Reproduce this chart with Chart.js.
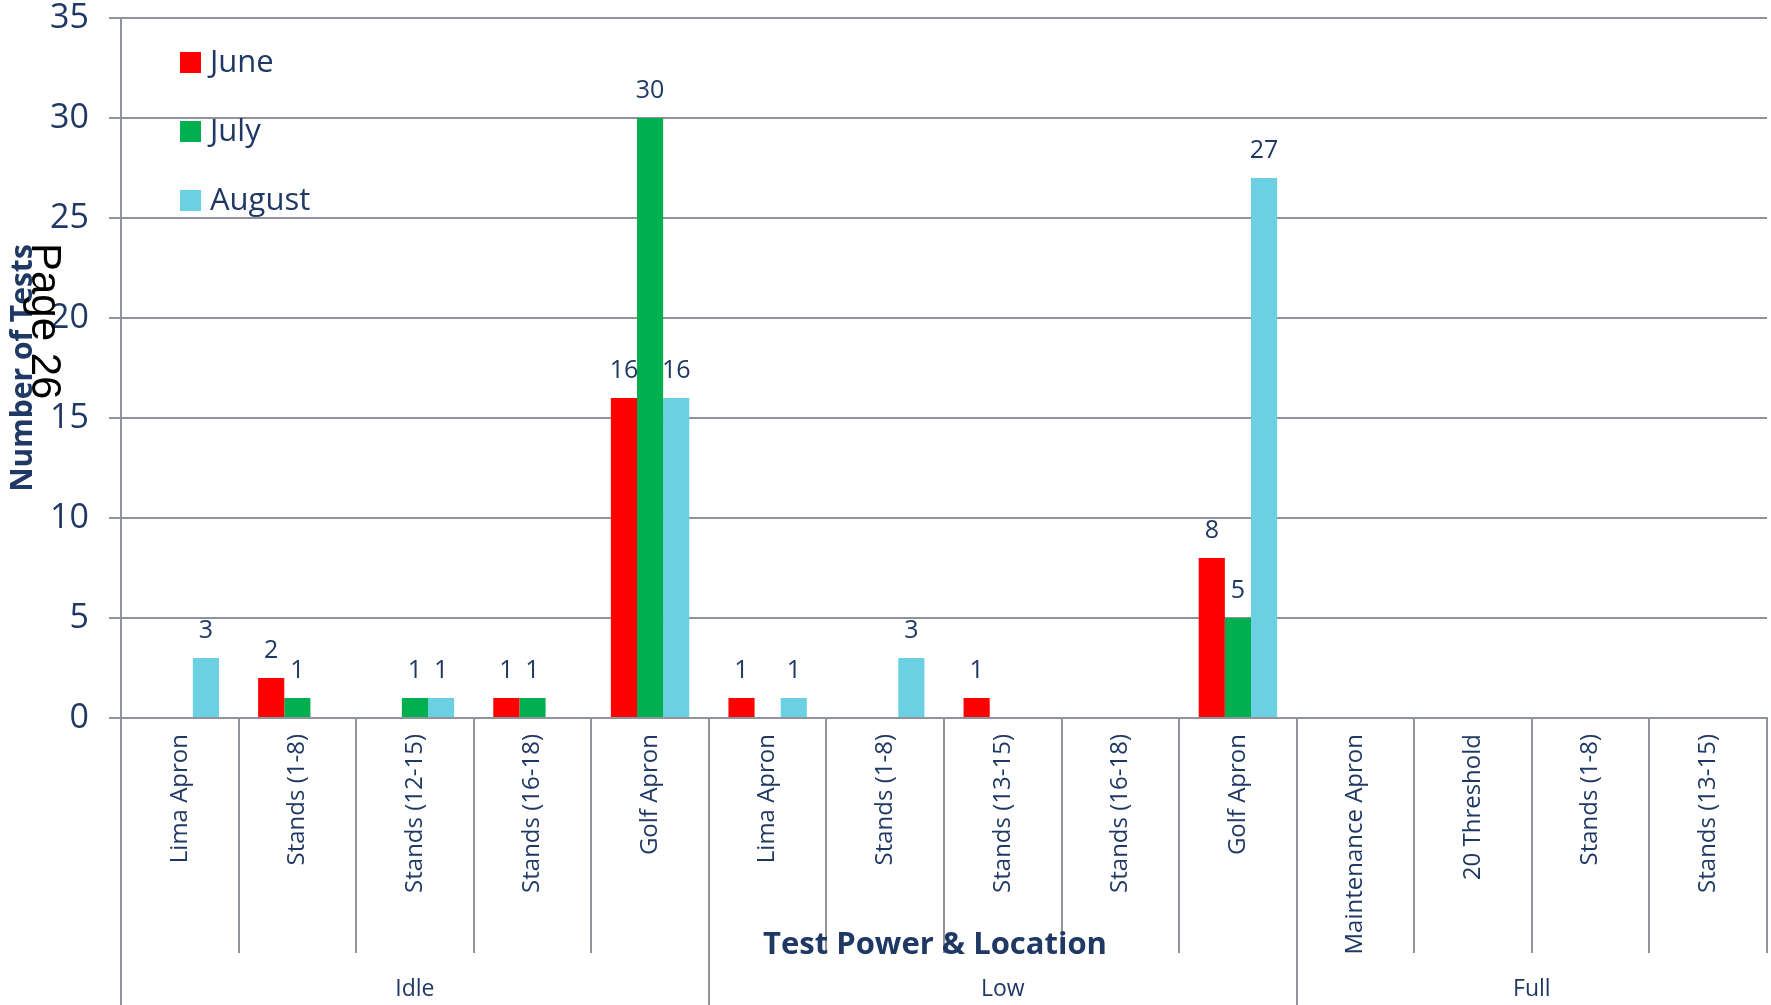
<!DOCTYPE html>
<html>
<head>
<meta charset="utf-8">
<title>Number of Tests</title>
<script src="https://cdn.jsdelivr.net/npm/chart.js@4.4.1/dist/chart.umd.min.js"></script>
<style>
    html, body { margin: 0; padding: 0; background: #ffffff; }
    #wrap { width: 1771px; height: 1005px; }
</style>
</head>
<body>
<div id="wrap"><canvas id="tests" width="1771" height="1005"></canvas></div>
<script>
// ---- data ----
const categories = [
    'Lima Apron', 'Stands (1-8)', 'Stands (12-15)', 'Stands (16-18)', 'Golf Apron',
    'Lima Apron', 'Stands (1-8)', 'Stands (13-15)', 'Stands (16-18)', 'Golf Apron',
    'Maintenance Apron', '20 Threshold', 'Stands (1-8)', 'Stands (13-15)'
];
const groupNames = ['Idle', 'Low', 'Full'];
const groupSizes = [5, 5, 4];
const juneTests   = [null, 2, null, 1, 16, 1, null, 1, null, 8, null, null, null, null];
const julyTests   = [null, 1, 1, 1, 30, null, null, null, null, 5, null, null, null, null];
const augustTests = [3, null, 1, null, 16, 1, 3, null, null, 27, null, null, null, null];
const yTicks = [0, 5, 10, 15, 20, 25, 30, 35];

const NAVY = '#1f3864';
const GRID = '#8e939c';
const FONT = '"Open Sans", "DejaVu Sans", sans-serif';

// draws labels, dividers, titles and legend around the bars
const decor = {
    id: 'decor',
    afterDatasetsDraw(chart) {
        const ctx = chart.ctx;
        ctx.save();
        ctx.fillStyle = NAVY;
        ctx.font = '25px ' + FONT;
        ctx.textAlign = 'center';
        ctx.textBaseline = 'middle';
        chart.data.datasets.forEach((ds, di) => {
            chart.getDatasetMeta(di).data.forEach((bar, i) => {
                if (ds.data[i] == null) return;
                ctx.fillText(String(ds.data[i]), bar.x, bar.y - 27);
            });
        });
        ctx.restore();
    },
    afterDraw(chart) {
        const ctx = chart.ctx;
        const area = chart.chartArea;
        const xs = chart.scales.x;
        const step = (area.right - area.left) / categories.length;
        const innerBottom = 953;
        const outerBottom = chart.height;

        ctx.save();
        // divider lines under the axis
        ctx.strokeStyle = GRID;
        ctx.lineWidth = 2;
        const groupEdges = [0];
        groupSizes.reduce((acc, n) => { groupEdges.push(acc + n); return acc + n; }, 0);
        for (let k = 0; k <= categories.length; k++) {
            const x = Math.round(area.left + k * step);
            const isGroup = groupEdges.includes(k) && k < categories.length;
            ctx.beginPath();
            ctx.moveTo(x, area.bottom);
            ctx.lineTo(x, isGroup ? outerBottom : innerBottom);
            ctx.stroke();
        }

        // category labels (rotated)
        ctx.fillStyle = NAVY;
        ctx.font = '24px ' + FONT;
        ctx.textAlign = 'right';
        ctx.textBaseline = 'middle';
        categories.forEach((c, i) => {
            const x = xs.getPixelForValue(i);
            ctx.save();
            ctx.translate(x, area.bottom + 16);
            ctx.rotate(-Math.PI / 2);
            ctx.fillText(c, 0, 0);
            ctx.restore();
        });

        // x axis title
        ctx.font = 'bold 31px ' + FONT;
        ctx.textAlign = 'center';
        ctx.fillText('Test Power & Location', 935, 945);

        // group labels
        ctx.font = '23px ' + FONT;
        groupNames.forEach((g, gi) => {
            const x0 = area.left + groupEdges[gi] * step;
            const x1 = area.left + groupEdges[gi + 1] * step;
            ctx.fillText(g, (x0 + x1) / 2, 989);
        });

        // y axis title
        ctx.save();
        ctx.font = 'bold 30px ' + FONT;
        ctx.translate(23, 368);
        ctx.rotate(-Math.PI / 2);
        ctx.fillText('Number of Tests', 0, 0);
        ctx.restore();

        // legend
        ctx.textAlign = 'left';
        ctx.font = '31px ' + FONT;
        const legendY = [62, 131, 200];
        chart.data.datasets.forEach((ds, di) => {
            ctx.fillStyle = ds.backgroundColor;
            ctx.fillRect(180, legendY[di] - 10, 21, 21);
            ctx.fillStyle = NAVY;
            ctx.fillText(ds.label, 210, legendY[di] + 1);
        });

        // page stamp
        ctx.save();
        ctx.fillStyle = '#000000';
        ctx.textAlign = 'left';
        ctx.font = '42px "Liberation Sans", Arial, sans-serif';
        ctx.translate(44, 243);
        ctx.rotate(Math.PI / 2);
        ctx.fillText('Page 26', 0, 0);
        ctx.restore();

        ctx.restore();
    }
};

const ctx = document.getElementById('tests').getContext('2d');
const testsChart = new Chart(ctx, {
    type: 'bar',
    data: {
        labels: categories,
        datasets: [
            { label: 'June', data: juneTests, backgroundColor: '#ff0000' },
            { label: 'July', data: julyTests, backgroundColor: '#00b050' },
            { label: 'August', data: augustTests, backgroundColor: '#6bd1e2' }
        ]
    },
    options: {
        responsive: false,
        devicePixelRatio: 1,
        animation: false,
        layout: { padding: { top: 18, right: 4, left: 0, bottom: 0 } },
        datasets: {
            bar: { categoryPercentage: 0.667, barPercentage: 1.0, skipNull: false, borderWidth: 0 }
        },
        plugins: {
            legend: { display: false },
            tooltip: { enabled: false }
        },
        scales: {
            x: {
                ticks: { display: false },
                grid: { display: false },
                border: { display: true, color: GRID, width: 2 },
                afterFit(scale) {
                    scale.height = 287;
                    scale.paddingLeft = 0;
                    scale.paddingRight = 0;
                }
            },
            y: {
                min: 0,
                max: 35,
                afterBuildTicks(scale) {
                    scale.ticks = yTicks.map(v => ({ value: v }));
                },
                ticks: {
                    color: NAVY,
                    font: { family: FONT, size: 34 },
                    padding: 20
                },
                grid: { color: GRID, lineWidth: 2, tickLength: 12, drawTicks: true },
                border: { display: true, color: GRID, width: 2 },
                afterFit(scale) {
                    scale.width = 121;
                    scale.paddingTop = 0;
                    scale.paddingBottom = 0;
                }
            }
        }
    },
    plugins: [decor]
});
</script>
</body>
</html>
